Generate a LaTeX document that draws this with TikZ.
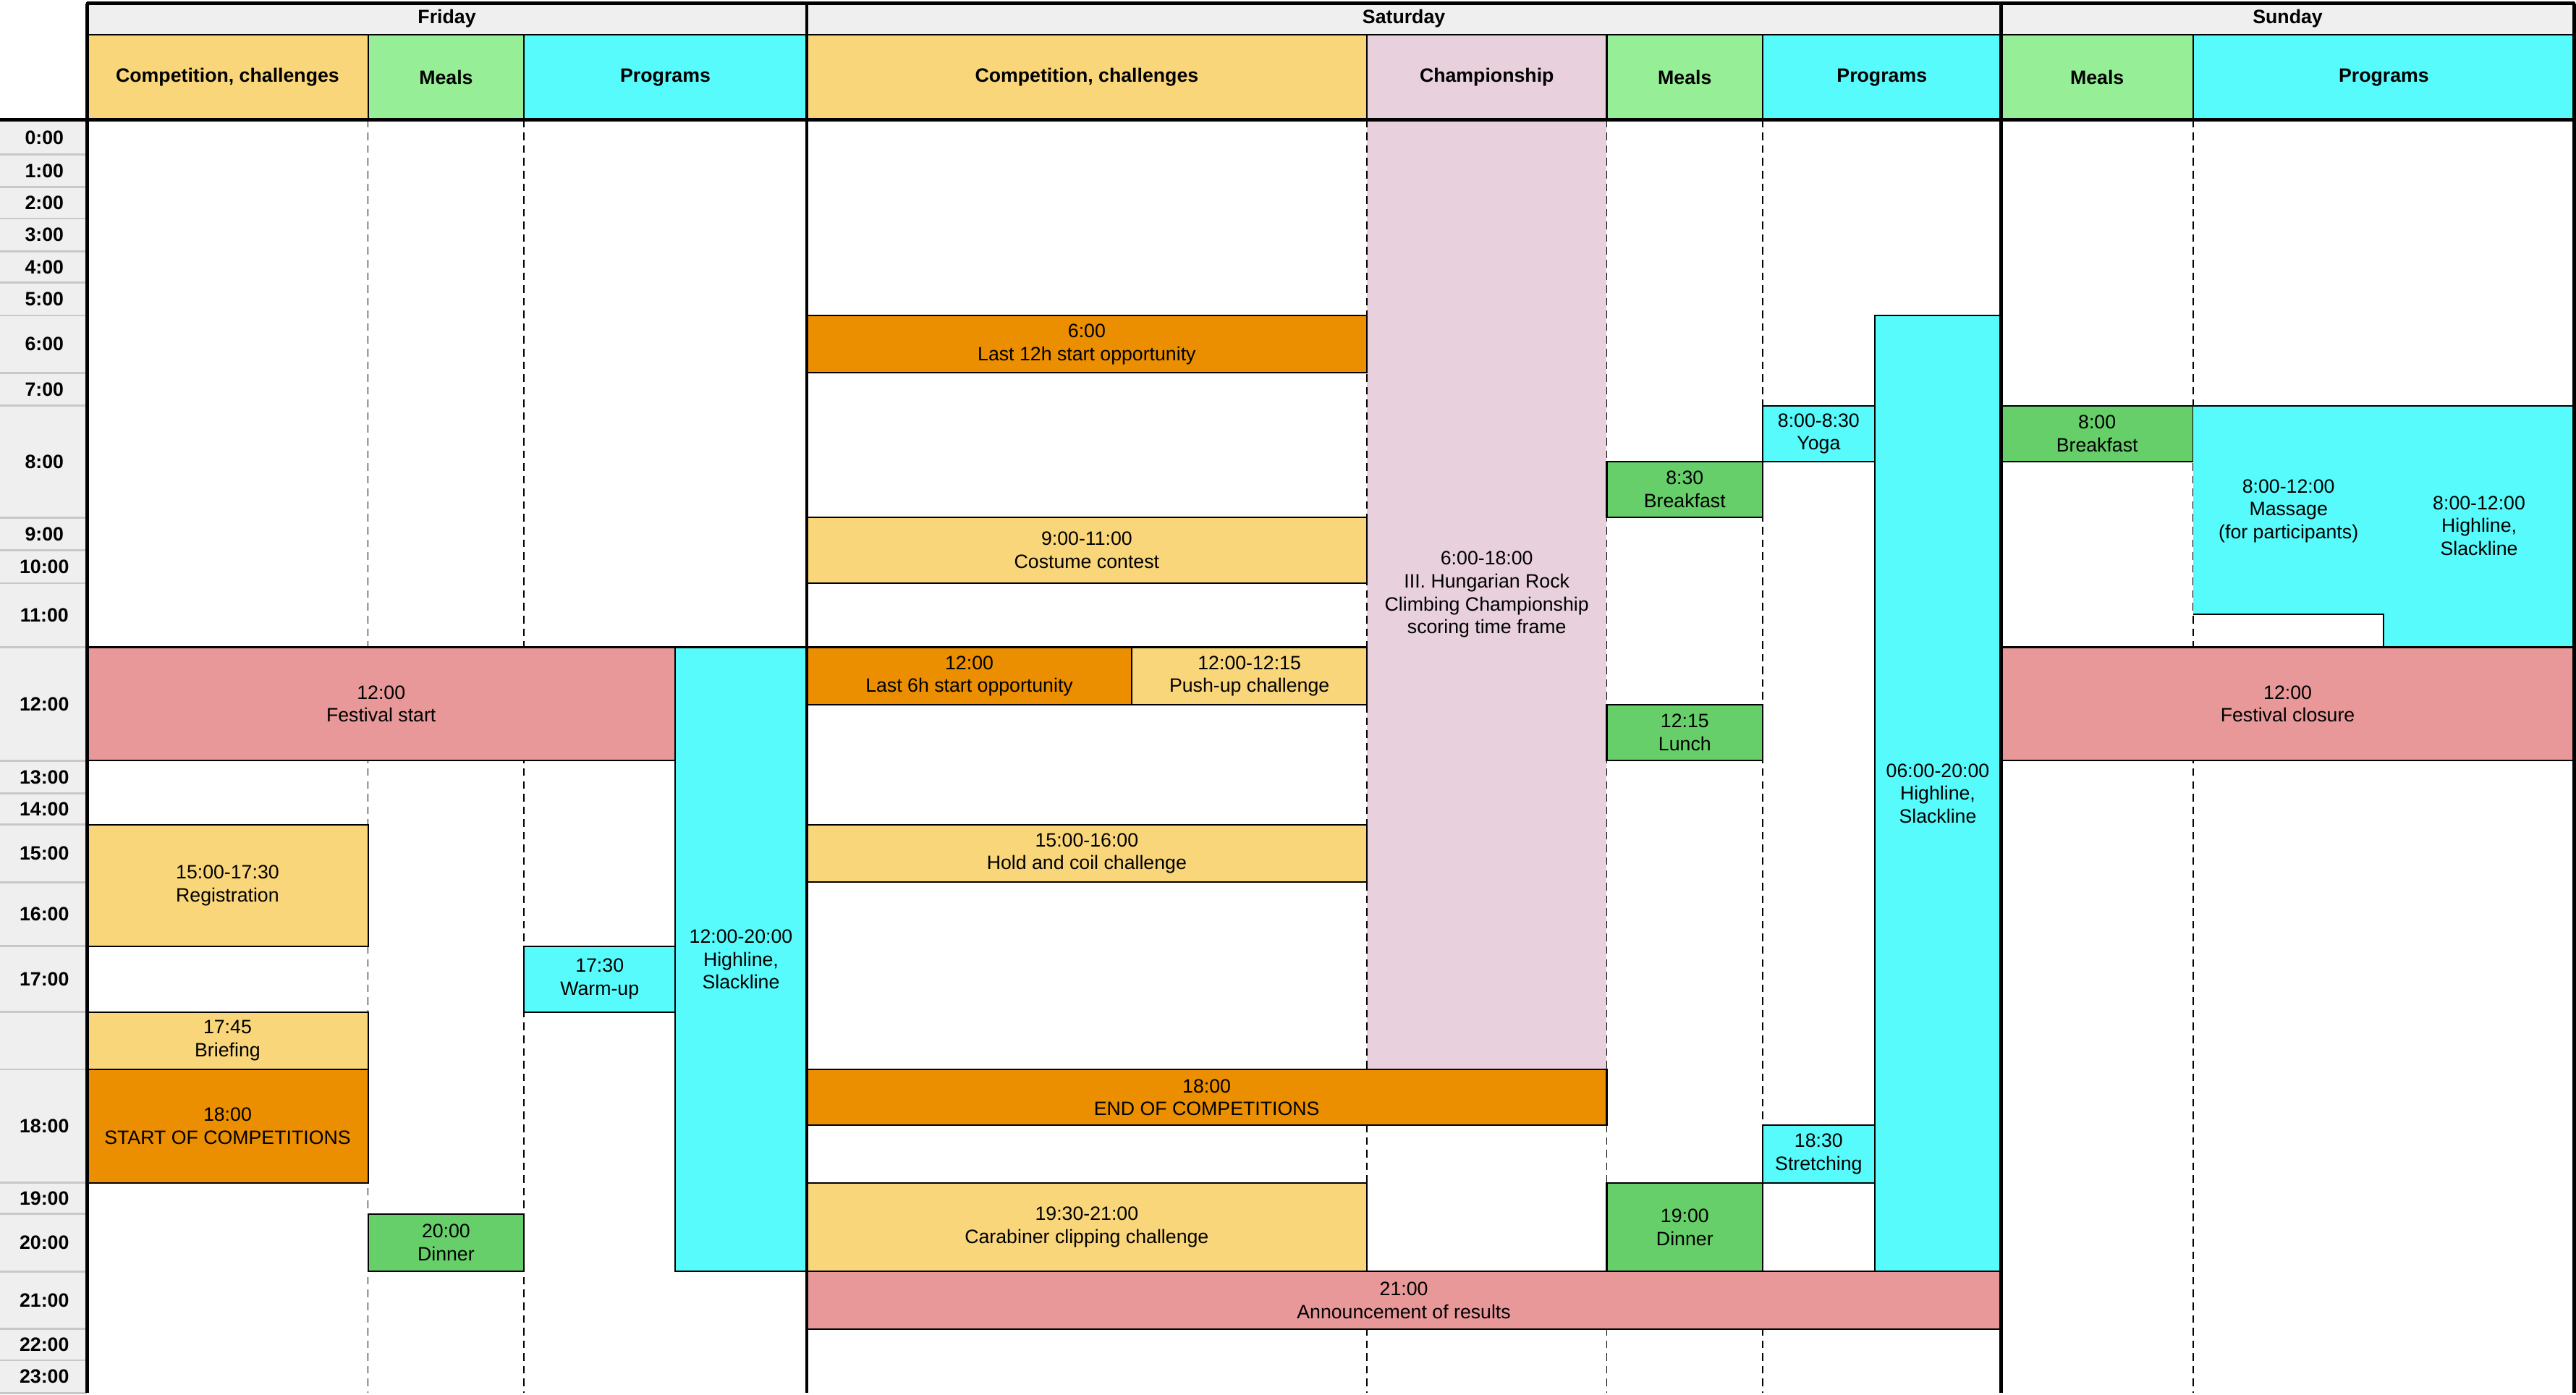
\documentclass[tikz,border=0pt]{standalone}
\usepackage{fontspec}
\setmainfont{Liberation Sans}
\usetikzlibrary{positioning}
\definecolor{evlight}{HTML}{F9D67A}
\definecolor{evdark}{HTML}{EB8F00}
\definecolor{evred}{HTML}{E89898}
\definecolor{evcyan}{HTML}{57FBFB}
\definecolor{evgreen}{HTML}{66CF6A}
\definecolor{hdgreen}{HTML}{96EE96}
\definecolor{evpink}{HTML}{E8D0DC}
\definecolor{hdgray}{HTML}{EFEFEF}
\definecolor{rowline}{HTML}{C8C8C8}

% one box per programme item: name, x1, y1, x2, y2, fill, text
\newcommand{\evbox}[7]{%
  \pgfmathsetmacro\evw{(#4-#2)*0.0227}%
  \pgfmathsetmacro\evh{(#5-#3)*0.0227}%
  \node[ev,fill=#6,minimum width=\evw cm,minimum height=\evh cm]
    (#1) at ({(#2+#4)/2},{(#3+#5)/2}) {#7};}

\begin{document}
\begin{tikzpicture}[x=0.0227cm,y=-0.0227cm,
  ev/.style={rectangle,draw=black,line width=0.6pt,inner sep=0pt,outer sep=0pt,
             align=center,font=\fontsize{7.6}{9}\selectfont},
  head/.style={rectangle,draw=black,line width=0.6pt,inner sep=0pt,
               font=\fontsize{7.6}{9}\selectfont\bfseries},
  hour/.style={font=\fontsize{7.6}{9}\selectfont\bfseries},
  sep/.style={densely dashed,line width=0.5pt},
  day/.style={line width=1.3pt}
]
  \useasboundingbox (0,0) rectangle (1568,849);

  % ---- Time column -------------------------------------------
  \fill[hdgray] (0,74) rectangle (53,848);
  \foreach \t/\ya/\yb in {0:00/74/94,1:00/94/114,2:00/114/133,3:00/133/153,
      4:00/153/172,5:00/172/192,6:00/192/227,7:00/227/247,8:00/247/315,
      9:00/315/335,10:00/335/355,11:00/355/394,12:00/394/463,13:00/463/483,
      14:00/483/502,15:00/502/537,16:00/537/576,17:00/576/616,/616/651,
      18:00/651/720,19:00/720/739,20:00/739/774,21:00/774/809,22:00/809/828,
      23:00/828/848}{
    \draw[rowline,line width=0.8pt] (0,\yb) -- (53,\yb);
    \node[hour] (h\ya) at (27,{(\ya+\yb)/2}) {\t};
  }

  % ---- Headers -----------------------------------------------
  \evbox{fri}{53}{2}{491}{21}{hdgray}{\textbf{Friday}}
  \evbox{sat}{491}{2}{1218}{21}{hdgray}{\textbf{Saturday}}
  \evbox{sun}{1218}{2}{1567}{21}{hdgray}{\textbf{Sunday}}
  \evbox{friC}{53}{21}{224}{73}{evlight}{\textbf{Competition, challenges}}
  \evbox{friM}{224}{21}{319}{73}{hdgreen}{\textbf{Meals}}
  \evbox{friP}{319}{21}{491}{73}{evcyan}{\textbf{Programs}}
  \evbox{satC}{491}{21}{832}{73}{evlight}{\textbf{Competition, challenges}}
  \evbox{satH}{832}{21}{978}{73}{evpink}{\textbf{Championship}}
  \evbox{satM}{978}{21}{1073}{73}{hdgreen}{\textbf{Meals}}
  \evbox{satP}{1073}{21}{1218}{73}{evcyan}{\textbf{Programs}}
  \evbox{sunM}{1218}{21}{1335}{73}{hdgreen}{\textbf{Meals}}
  \evbox{sunP}{1335}{21}{1567}{73}{evcyan}{\textbf{Programs}}

  % ---- Championship frame -------------------------------------
  \fill[evpink] (832,74) rectangle (978,651);
  \node[ev,draw=none] (champ) at (905,362)
    {6:00-18:00\\III. Hungarian Rock\\Climbing Championship\\scoring time frame};

  % ---- Column separators --------------------------------------
  \foreach \x in {224,319,832,978,1073,1335}
    \draw[sep] (\x,73) -- (\x,848);

  % ---- Friday -------------------------------------------------
  \evbox{fstart}{53}{394}{411}{463}{evred}{12:00\\Festival start}
  \evbox{fhigh}{411}{394}{491}{774}{evcyan}{12:00-20:00\\Highline,\\Slackline}
  \evbox{freg}{53}{502}{224}{576}{evlight}{15:00-17:30\\Registration}
  \evbox{fwarm}{319}{576}{411}{616}{evcyan}{17:30\\Warm-up}
  \evbox{fbrief}{53}{616}{224}{651}{evlight}{17:45\\Briefing}
  \evbox{fcomp}{53}{651}{224}{720}{evdark}{18:00\\START OF COMPETITIONS}
  \evbox{fdin}{224}{739}{319}{774}{evgreen}{20:00\\Dinner}

  % ---- Saturday -----------------------------------------------
  \evbox{s12h}{491}{192}{832}{227}{evdark}{6:00\\Last 12h start opportunity}
  \evbox{scost}{491}{315}{832}{355}{evlight}{9:00-11:00\\Costume contest}
  \evbox{s6h}{491}{394}{689}{429}{evdark}{12:00\\Last 6h start opportunity}
  \evbox{spush}{689}{394}{832}{429}{evlight}{12:00-12:15\\Push-up challenge}
  \evbox{shold}{491}{502}{832}{537}{evlight}{15:00-16:00\\Hold and coil challenge}
  \evbox{send}{491}{651}{978}{685}{evdark}{18:00\\END OF COMPETITIONS}
  \evbox{scar}{491}{720}{832}{774}{evlight}{19:30-21:00\\Carabiner clipping challenge}
  \evbox{sres}{491}{774}{1218}{809}{evred}{21:00\\Announcement of results}
  \evbox{sbrk}{978}{281}{1073}{315}{evgreen}{8:30\\Breakfast}
  \evbox{slun}{978}{429}{1073}{463}{evgreen}{12:15\\Lunch}
  \evbox{sdin}{978}{720}{1073}{774}{evgreen}{19:00\\Dinner}
  \evbox{syoga}{1073}{247}{1141}{281}{evcyan}{8:00-8:30\\Yoga}
  \evbox{sstr}{1073}{685}{1141}{720}{evcyan}{18:30\\Stretching}
  \evbox{shigh}{1141}{192}{1218}{774}{evcyan}{06:00-20:00\\Highline,\\Slackline}

  % ---- Sunday -------------------------------------------------
  \evbox{ubrk}{1218}{247}{1335}{281}{evgreen}{8:00\\Breakfast}
  \fill[evcyan] (1335,247) -- (1567,247) -- (1567,394) -- (1451,394)
    -- (1451,374) -- (1335,374) -- cycle;
  \draw[line width=0.6pt] (1335,247) -- (1567,247) -- (1567,394)
    (1335,374) -- (1451,374) -- (1451,394);
  \node[ev,draw=none] (umass) at (1393,311) {8:00-12:00\\Massage\\(for participants)};
  \node[ev,draw=none] (uhigh) at (1509,320) {8:00-12:00\\Highline,\\Slackline};
  \evbox{uclose}{1218}{394}{1567}{463}{evred}{12:00\\Festival closure}

  % ---- Day frames ---------------------------------------------
  \draw[day] (0,73) -- (1567,73);
  \draw[day] (53,2) -- (1567,2);
  \foreach \x in {53,491,1218,1567}
    \draw[day] (\x,2) -- (\x,848);
\end{tikzpicture}
\end{document}
